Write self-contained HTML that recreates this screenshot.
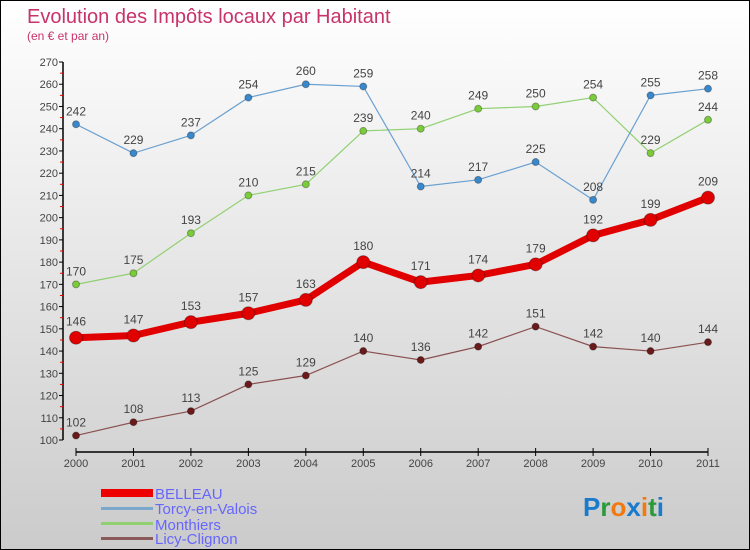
<!DOCTYPE html>
<html><head><meta charset="utf-8"><style>
body{margin:0;}
#c{width:748px;height:548px;border:1px solid #000;background:linear-gradient(#ffffff,#cbcbcb);position:relative;overflow:hidden;font-family:"Liberation Sans",sans-serif;}
text{font-family:"Liberation Sans",sans-serif;}
</style></head><body>
<div id="c">
<svg id="s" width="748" height="548">
<text x="26" y="22" font-size="20" fill="#c8336a">Evolution des Impôts locaux par Habitant</text>
<text x="26" y="39" font-size="12" fill="#c8336a">(en € et par an)</text>
<g id="axes"></g><g id="series"></g>
<g>
<rect x="100" y="488" width="52" height="8" fill="#e00"/>
<text x="154" y="498" font-size="15" fill="#6666ff">BELLEAU</text>
<rect x="100" y="506" width="52" height="3" fill="#7aa7cc"/>
<text x="154" y="513" font-size="15" fill="#6666ff">Torcy-en-Valois</text>
<rect x="100" y="521" width="52" height="3" fill="#90d070"/>
<text x="154" y="529" font-size="15" fill="#6666ff">Monthiers</text>
<rect x="100" y="536" width="52" height="3" fill="#8a5a5a"/>
<text x="154" y="543" font-size="15" fill="#6666ff">Licy-Clignon</text>
</g>
<text x="582" y="515" font-size="26" font-weight="bold"><tspan fill="#1a7acc">P</tspan><tspan fill="#2a9a3a">r</tspan><tspan fill="#f07a10">o</tspan><tspan fill="#1a7acc">x</tspan><tspan fill="#f07a10">i</tspan><tspan fill="#2a9a3a">t</tspan><tspan fill="#1a7acc">i</tspan></text>
</svg></div>
<script>
const years=[2000,2001,2002,2003,2004,2005,2006,2007,2008,2009,2010,2011];
const belleau=[146,147,153,157,163,180,171,174,179,192,199,209];
const torcy=[242,229,237,254,260,259,214,217,225,208,255,258];
const monthiers=[170,175,193,210,215,239,240,249,250,254,229,244];
const licy=[102,108,113,125,129,140,136,142,151,142,140,144];
const yTicks=[100,110,120,130,140,150,160,170,180,190,200,210,220,230,240,250,260,270];
const NS="http://www.w3.org/2000/svg";
const xs=i=>75+i*(632/11);
const ys=v=>439-(v-100)*(378/170);
function el(tag,a,p){const e=document.createElementNS(NS,tag);for(const k in a)e.setAttribute(k,a[k]);p.appendChild(e);return e;}
const ax=document.getElementById('axes');
let l=el('line',{x1:62,y1:61,x2:62,y2:439,stroke:'#000','stroke-width':1.5},ax);


yTicks.forEach((v,i)=>{
 const y=ys(v);
 let t=el('line',{x1:58,y1:y,x2:62,y2:y,stroke:'#000'},ax);
 
 
 if(i<yTicks.length-1){let m=el('line',{x1:59,y1:y-11.1,x2:62,y2:y-11.1,stroke:'#e00'},ax);
 
 }
 let tx=el('text',{x:57,y:y+4,'font-size':11,fill:'#444','text-anchor':'end'},ax);tx.textContent=v;
 
 
});
l=el('line',{x1:75,y1:451,x2:707,y2:451,stroke:'#000','stroke-width':1.5},ax);


years.forEach((yr,i)=>{
 let t=el('line',{x1:xs(i),y1:447,x2:xs(i),y2:455,stroke:'#000'},ax);
 
 
 let tx=el('text',{x:xs(i),y:466,'font-size':11,fill:'#444','text-anchor':'middle'},ax);tx.textContent=yr;
 
 
});
const sg=document.getElementById('series');
function draw(data,color,dot,w,r,name){
 const g=el('g',{},sg);
 
 
 const pl=el('polyline',{points:data.map((v,i)=>xs(i)+','+ys(v)).join(' '),fill:'none',stroke:color,'stroke-width':w},g);
 
 
 data.forEach((v,i)=>{
  const c=el('circle',{cx:xs(i),cy:ys(v),r:r,fill:dot,stroke:'rgba(0,0,0,0.3)'},g);
  
  
  const t=el('text',{x:xs(i),y:ys(v)-9-(r>4?3:0),'font-size':12,fill:'#444','text-anchor':'middle'},g);t.textContent=v;
  
  
 });
}
draw(licy,'#8a5050','#6a1a1a',1.2,3.5,'licy');
draw(monthiers,'#90d070','#7acc3a',1.2,3.5,'monthiers');
draw(torcy,'#6aa0d0','#3a88cc',1.2,3.5,'torcy');
draw(belleau,'#e00000','#e00000',7,6.5,'belleau');
</script>
</body></html>
